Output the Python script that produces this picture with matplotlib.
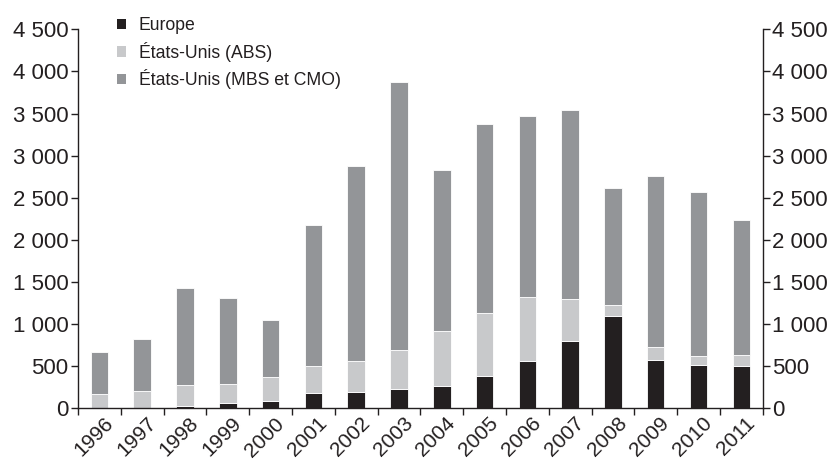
import matplotlib
matplotlib.use("Agg")
import matplotlib.pyplot as plt
import matplotlib.transforms as mtransforms
import numpy as np
from matplotlib.ticker import FuncFormatter, FixedLocator

plt.rcParams['font.family'] = ['Liberation Sans', 'DejaVu Sans']

years = ["1996", "1997", "1998", "1999", "2000", "2001", "2002", "2003",
         "2004", "2005", "2006", "2007", "2008", "2009", "2010", "2011"]
# Cumulative tops read per segment
europe = [0, 0, 30, 59, 87, 182, 194, 226, 268, 384, 565, 796, 1093, 574, 518, 506]
us_abs_top = [170, 209, 273, 292, 368, 506, 565, 689, 918, 1132, 1318, 1302, 1231, 728, 621, 633]
total = [665, 823, 1425, 1314, 1052, 2181, 2881, 3872, 2826, 3380, 3468, 3547, 2617, 2759, 2569, 2237]

us_abs = [t - e for t, e in zip(us_abs_top, europe)]
us_mbs = [t - a for t, a in zip(total, us_abs_top)]

series_labels = ["Europe", "États-Unis (ABS)", "États-Unis (MBS et CMO)"]
colors = ["#231f20", "#c8c9cb", "#939598"]
ink = "#231f20"

fig = plt.figure(figsize=(8.35, 4.61), dpi=100)
ax = fig.add_axes([0.0934, 0.1143, 0.82, 0.8221])

x = np.arange(len(years))
w = 0.41
ax.bar(x, europe, w, color=colors[0], edgecolor="white", linewidth=0.6, label=series_labels[0])
ax.bar(x, us_abs, w, bottom=europe, color=colors[1], edgecolor="white", linewidth=0.6, label=series_labels[1])
ax.bar(x, us_mbs, w, bottom=us_abs_top, color=colors[2], edgecolor="white", linewidth=0.6, label=series_labels[2])

ax.set_xlim(-0.5, len(years) - 0.5)
ax.set_ylim(0, 4500)

fmt = FuncFormatter(lambda v, p: f"{int(v):,}".replace(",", " "))
ax.yaxis.set_major_locator(FixedLocator(np.arange(0, 4501, 500)))
ax.yaxis.set_major_formatter(fmt)

# Boundary ticks on x, labels centred under bars
ax.xaxis.set_major_locator(FixedLocator(np.arange(-0.5, len(years), 1.0)))
ax.xaxis.set_major_formatter(FuncFormatter(lambda v, p: ""))
ax.xaxis.set_minor_locator(FixedLocator(x))
ax.set_xticklabels(years, minor=True, rotation=45, ha="right", rotation_mode="anchor")
ax.tick_params(axis="x", which="minor", length=0, pad=4, labelsize=15, labelcolor=ink)
ax.tick_params(axis="x", which="major", length=5, width=1, color=ink, direction="out")
shift = mtransforms.ScaledTranslation(4 / 100, 0, fig.dpi_scale_trans)
for lab in ax.xaxis.get_minorticklabels():
    lab.set_transform(lab.get_transform() + shift)

ax.tick_params(axis="y", which="major", length=5, width=1, color=ink, direction="out",
               labelsize=16, labelcolor=ink, left=True, right=True,
               labelleft=True, labelright=True, pad=2)

for s in ["left", "right", "bottom"]:
    ax.spines[s].set_color(ink)
    ax.spines[s].set_linewidth(1)
ax.spines["top"].set_visible(False)

leg = ax.legend(loc="upper left", bbox_to_anchor=(0.046, 1.05), frameon=False,
                fontsize=12.7, handlelength=0.52, handleheight=0.55,
                handletextpad=0.74, labelspacing=0.42, borderaxespad=0)
for t in leg.get_texts():
    t.set_color(ink)
for h in leg.legend_handles:
    h.set_edgecolor("none")

fig.savefig("out.png", dpi=100)
